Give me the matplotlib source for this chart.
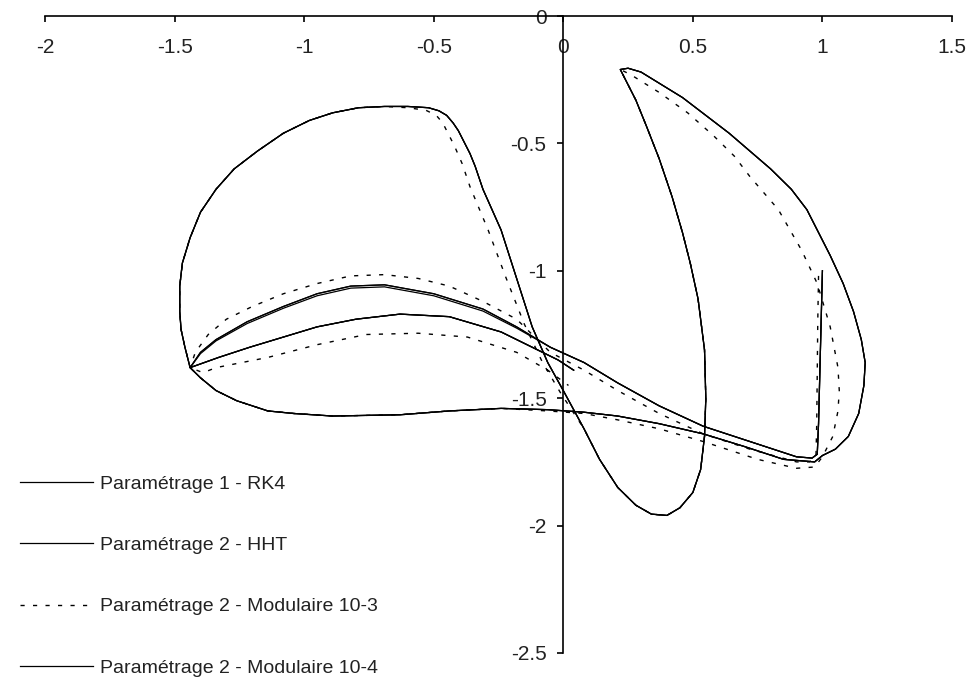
import matplotlib
matplotlib.use('Agg')
import matplotlib.pyplot as plt

plt.rcParams['font.family'] = ['Liberation Sans', 'DejaVu Sans']
plt.rcParams['axes.unicode_minus'] = False

# axis ticks
x_ticks = [-2, -1.5, -1, -0.5, 0, 0.5, 1, 1.5]
x_labels = ['-2', '-1.5', '-1', '-0.5', '0', '0.5', '1', '1.5']
y_ticks = [0, -0.5, -1, -1.5, -2, -2.5]
y_labels = ['0', '-0.5', '-1', '-1.5', '-2', '-2.5']

# trajectory, piece by piece (in drawing order)
# start: vertical drop at x = 1
vert_x = [1.0, 0.995, 0.99, 0.985, 0.98, 0.96, 0.9]
vert_y = [-1.0, -1.2, -1.4, -1.6, -1.72, -1.735, -1.73]
vert3_x = [0.985, 0.982, 0.98, 0.978, 0.975, 0.95, 0.9]
vert3_y = [-1.02, -1.2, -1.4, -1.6, -1.73, -1.75, -1.75]

# line back up-left to the crossing
upline_x = [0.72, 0.54, 0.37, 0.21, 0.08, -0.05]
upline_y = [-1.67, -1.61, -1.53, -1.44, -1.36, -1.30]
upline3_x = [0.72, 0.54, 0.37, 0.21, 0.08, -0.05]
upline3_y = [-1.70, -1.64, -1.56, -1.47, -1.39, -1.32]

# upper arc to the left cusp
uparc_x = [-0.18, -0.31, -0.50, -0.69, -0.82, -0.95, -1.08, -1.22, -1.34, -1.40, -1.44]
uparc_y = [-1.22, -1.15, -1.09, -1.055, -1.06, -1.09, -1.14, -1.20, -1.27, -1.32, -1.38]
uparc2_y = [-1.225, -1.158, -1.098, -1.063, -1.068, -1.098, -1.147, -1.207, -1.275, -1.325, -1.38]
uparc3_x = [-0.18, -0.31, -0.44, -0.56, -0.69, -0.82, -0.95, -1.08, -1.20, -1.30, -1.37, -1.42, -1.44]
uparc3_y = [-1.19, -1.12, -1.06, -1.03, -1.015, -1.02, -1.05, -1.09, -1.14, -1.19, -1.25, -1.32, -1.38]

# big upper loop
toploop_x = [-1.46, -1.475, -1.48, -1.48, -1.47, -1.44, -1.40, -1.34, -1.27, -1.18, -1.08, -0.98,
             -0.89, -0.79, -0.69, -0.60, -0.52, -0.48, -0.45, -0.425, -0.405, -0.385, -0.36,
             -0.34, -0.31, -0.24, -0.18, -0.12, -0.06, 0.0]
toploop_y = [-1.30, -1.23, -1.16, -1.06, -0.97, -0.87, -0.77, -0.68, -0.60, -0.53, -0.46, -0.41,
             -0.38, -0.36, -0.355, -0.355, -0.36, -0.372, -0.39, -0.42, -0.45, -0.49, -0.54,
             -0.59, -0.68, -0.84, -1.03, -1.22, -1.36, -1.47]
toploop3_x = [-1.46, -1.475, -1.48, -1.48, -1.47, -1.44, -1.40, -1.34, -1.27, -1.18, -1.08, -0.98,
              -0.89, -0.79, -0.69, -0.60, -0.53, -0.49, -0.465, -0.445, -0.42, -0.39, -0.36,
              -0.29, -0.22, -0.15, -0.08, -0.01]
toploop3_y = [-1.30, -1.23, -1.16, -1.06, -0.97, -0.87, -0.77, -0.68, -0.60, -0.53, -0.46, -0.41,
              -0.38, -0.36, -0.355, -0.36, -0.37, -0.39, -0.42, -0.46, -0.51, -0.58, -0.67,
              -0.84, -1.03, -1.21, -1.36, -1.48]

# lower lobe and narrow lobe up to the top tip
lobe_x = [0.08, 0.14, 0.21, 0.28, 0.34, 0.40, 0.45, 0.50, 0.53, 0.545, 0.55, 0.545, 0.52,
          0.49, 0.46, 0.42, 0.37, 0.32, 0.28, 0.24, 0.22]
lobe_y = [-1.62, -1.74, -1.85, -1.92, -1.955, -1.96, -1.93, -1.87, -1.78, -1.65, -1.50, -1.31,
          -1.11, -0.97, -0.85, -0.71, -0.56, -0.43, -0.33, -0.25, -0.21]

# outer right loop
outer_x = [0.25, 0.30, 0.38, 0.46, 0.55, 0.64, 0.72, 0.80, 0.88, 0.94, 0.98, 1.03, 1.08,
           1.12, 1.15, 1.165, 1.16, 1.14, 1.10, 1.05, 1.0, 0.97]
outer_y = [-0.205, -0.22, -0.27, -0.32, -0.39, -0.46, -0.53, -0.60, -0.68, -0.76, -0.84, -0.94,
           -1.05, -1.16, -1.27, -1.36, -1.45, -1.56, -1.65, -1.70, -1.725, -1.75]
outer3_x = [0.26, 0.37, 0.48, 0.58, 0.66, 0.72, 0.83, 0.92, 0.98, 1.03, 1.06, 1.065, 1.06,
            1.04, 1.0, 0.97]
outer3_y = [-0.23, -0.30, -0.38, -0.47, -0.55, -0.63, -0.76, -0.92, -1.05, -1.22, -1.38, -1.47,
            -1.55, -1.65, -1.73, -1.77]

# lower line back to the left
lowline_x = [0.85, 0.70, 0.54, 0.37, 0.21, 0.08, -0.06]
lowline_y = [-1.74, -1.69, -1.64, -1.60, -1.57, -1.555, -1.545]
lowline3_x = [0.90, 0.75, 0.54, 0.37, 0.21, 0.08, -0.06]
lowline3_y = [-1.775, -1.74, -1.67, -1.62, -1.585, -1.56, -1.55]

# bottom loop to the cusp
botloop_x = [-0.24, -0.44, -0.63, -0.89, -1.04, -1.14, -1.26, -1.34, -1.40, -1.44]
botloop_y = [-1.54, -1.55, -1.565, -1.57, -1.56, -1.55, -1.51, -1.47, -1.42, -1.38]

# last arc back to the centre
lowarc_x = [-1.33, -1.21, -1.08, -0.95, -0.80, -0.63, -0.44, -0.24, -0.12, -0.02, 0.04]
lowarc_y = [-1.34, -1.30, -1.26, -1.22, -1.19, -1.17, -1.18, -1.24, -1.30, -1.35, -1.39]
lowarc3_x = [-1.39, -1.34, -1.14, -0.95, -0.76, -0.56, -0.37, -0.18, -0.06, 0.02]
lowarc3_y = [-1.40, -1.38, -1.34, -1.29, -1.25, -1.245, -1.26, -1.32, -1.39, -1.45]

rk4_x = vert_x + upline_x + uparc_x + toploop_x + lobe_x + outer_x + lowline_x + botloop_x + lowarc_x
rk4_y = vert_y + upline_y + uparc_y + toploop_y + lobe_y + outer_y + lowline_y + botloop_y + lowarc_y
hht_x = rk4_x
hht_y = vert_y + upline_y + uparc2_y + toploop_y + lobe_y + outer_y + lowline_y + botloop_y + lowarc_y
m3_x = vert3_x + upline3_x + uparc3_x + toploop3_x + lobe_x + outer3_x + lowline3_x + botloop_x + lowarc3_x
m3_y = vert3_y + upline3_y + uparc3_y + toploop3_y + lobe_y + outer3_y + lowline3_y + botloop_y + lowarc3_y
m4_x = rk4_x
m4_y = rk4_y

fig = plt.figure(figsize=(9.72, 6.78), dpi=100)
ax = fig.add_axes([45 / 972, 25 / 678, 907 / 972, 637 / 678])

ax.plot(rk4_x, rk4_y, color='black', lw=0.9, label='Paramétrage 1 - RK4')
ax.plot(hht_x, hht_y, color='black', lw=0.9, label='Paramétrage 2 - HHT')
ax.plot(m3_x, m3_y, color='black', lw=1.0, linestyle=(0, (3, 6)),
        label='Paramétrage 2 - Modulaire 10-3')
ax.plot(m4_x, m4_y, color='black', lw=0.9, label='Paramétrage 2 - Modulaire 10-4')

ax.set_xlim(-2, 1.5)
ax.set_ylim(-2.5, 0)

# axes crossing at the origin
ax.spines['left'].set_position(('data', 0))
ax.spines['bottom'].set_position(('data', 0))
ax.spines['top'].set_visible(False)
ax.spines['right'].set_visible(False)
ax.spines['left'].set_linewidth(1.2)
ax.spines['bottom'].set_linewidth(1.2)

ax.set_xticks(x_ticks)
ax.set_xticklabels(x_labels)
ax.set_yticks(y_ticks)
ax.set_yticklabels(y_labels)
ax.tick_params(axis='x', length=4, width=1.2, pad=12, labelsize=15, labelcolor='#222222')
ax.tick_params(axis='y', length=4, width=1.2, pad=8, labelsize=15, labelcolor='#222222')

ax.legend(loc='center left', bbox_to_anchor=(20 / 972, 1 - 576 / 678),
          bbox_transform=fig.transFigure, frameon=False, fontsize=14,
          labelspacing=2.25, handlelength=3.75, handletextpad=0.35,
          borderpad=0, borderaxespad=0, labelcolor='#222222')

fig.savefig('out.png', dpi=100, facecolor='white')
